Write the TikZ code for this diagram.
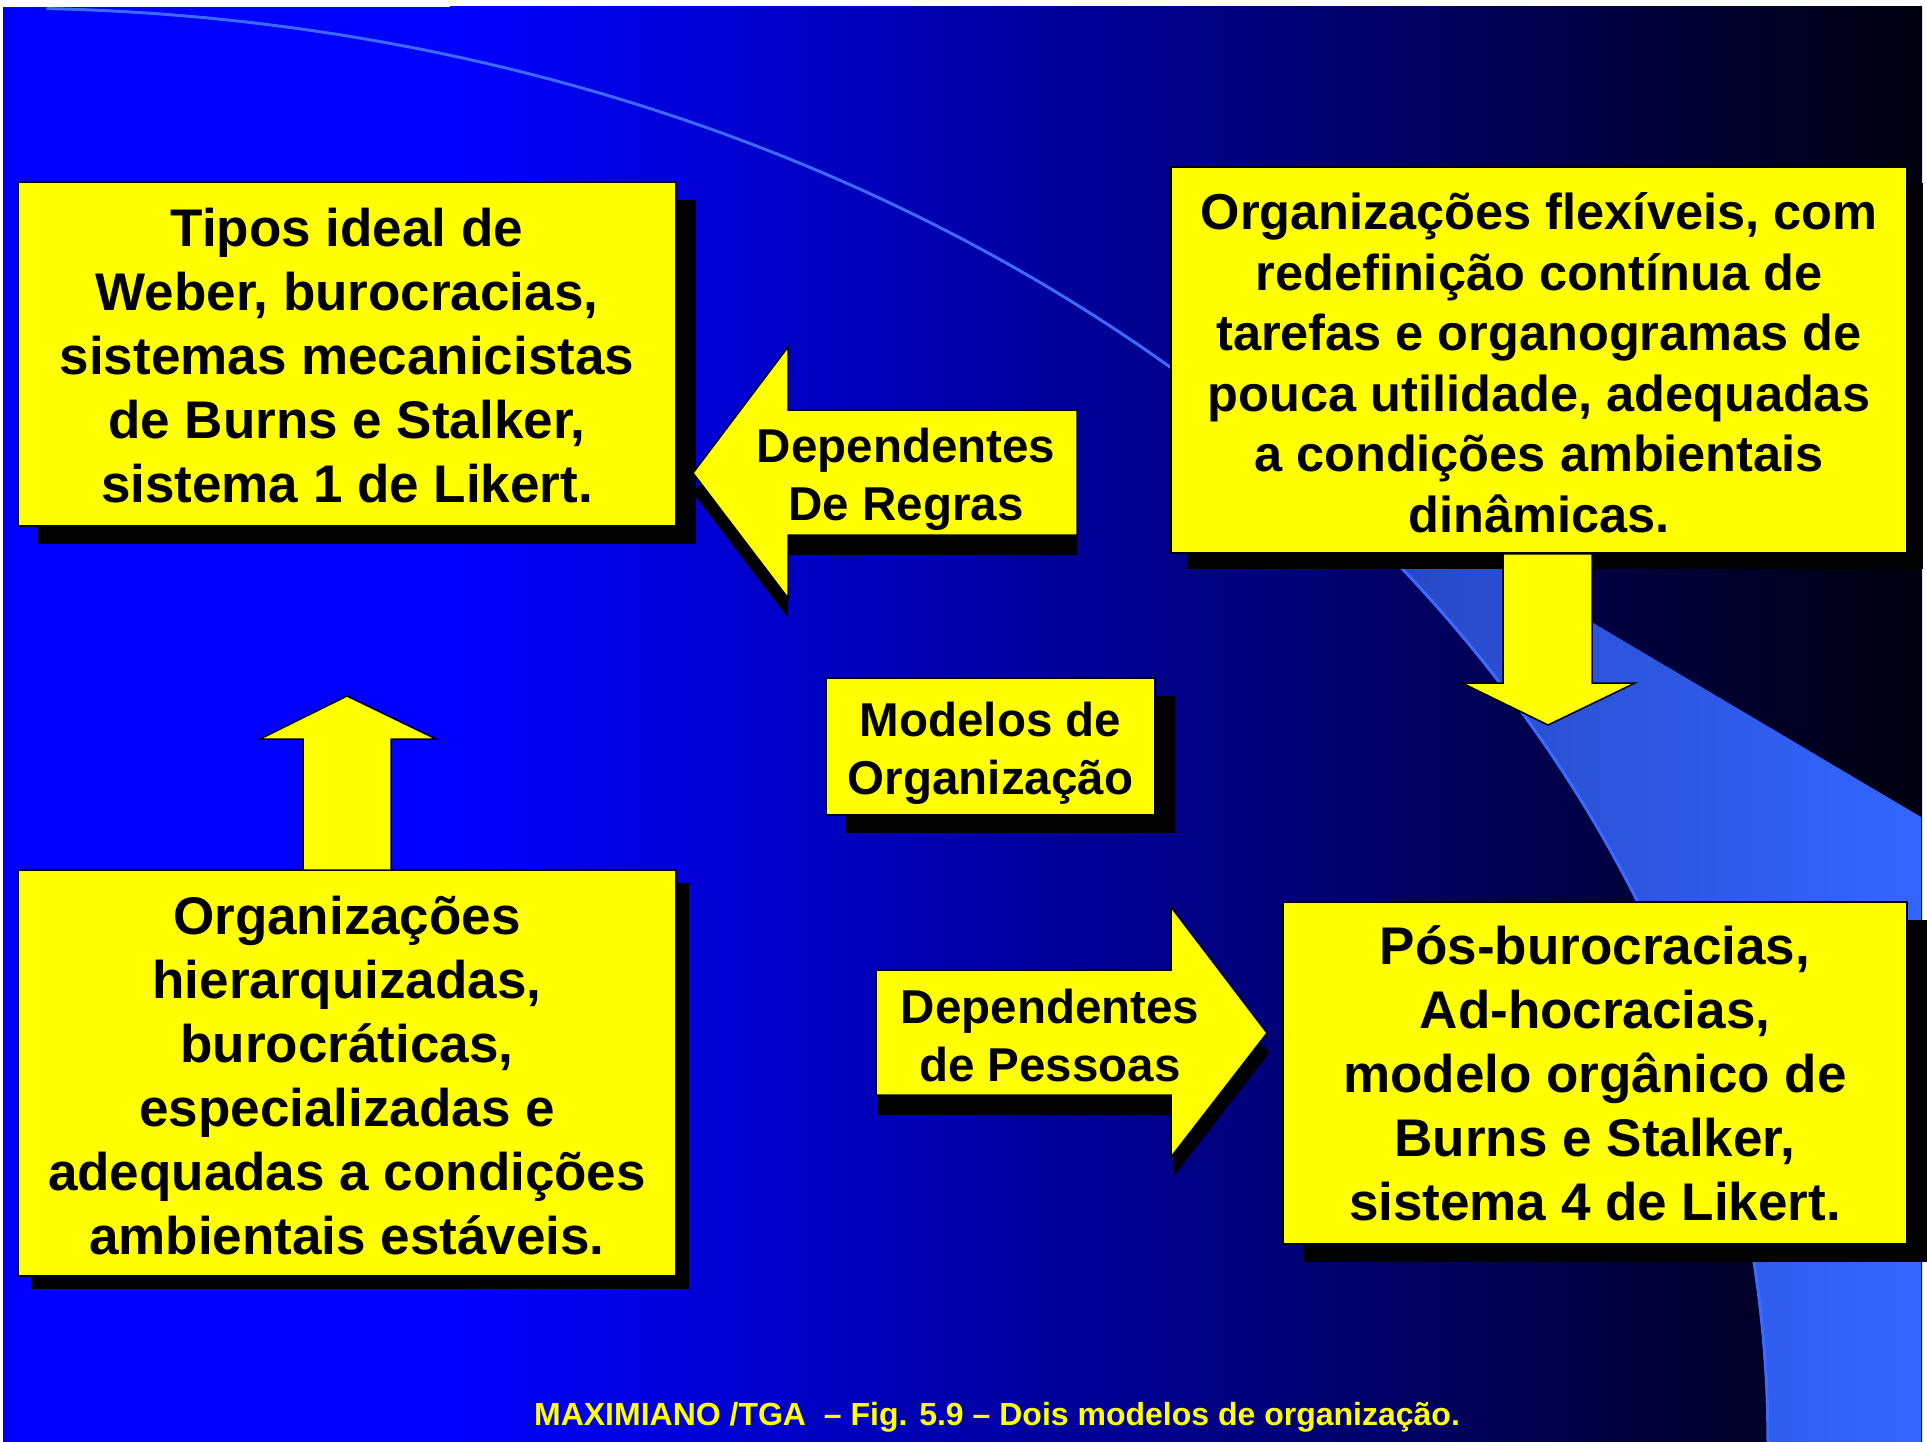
\documentclass[tikz,border=0pt]{standalone}
\usepackage{fontspec}
\setmainfont{Liberation Sans}
\usetikzlibrary{shadows}
\definecolor{bgA}{RGB}{0,0,255}
\definecolor{bgB}{RGB}{0,0,14}
\definecolor{swA}{RGB}{36,62,176}
\definecolor{swB}{RGB}{51,102,255}
\definecolor{arcline}{RGB}{60,105,255}
\definecolor{boxyellow}{RGB}{255,255,0}
\begin{document}
\begin{tikzpicture}[x=1pt,y=-1pt,
  box/.style={draw=black, line width=1.5pt, fill=boxyellow, inner sep=0pt},
  shad/.style 2 args={general shadow={fill=black, shadow xshift=#1pt, shadow yshift=-#2pt}},
  bigtext/.style={font=\fontsize{53}{64}\selectfont\bfseries},
  midtext/.style={font=\fontsize{50.5}{60.5}\selectfont\bfseries},
  smalltext/.style={font=\fontsize{47.5}{58}\selectfont\bfseries},
  blockarrow/.style={draw=black, line width=1.5pt, fill=boxyellow, line join=miter},
  arrowshadow/.style={fill=black},
  lbl/.style={inner sep=0pt, align=center, text=black}
]
% page and background
\useasboundingbox (0,0) rectangle (1927,1442);
\fill[white] (0,0) rectangle (1927,1442);
\fill[bgA] (3,7) rectangle (452,1442);
\shade[left color=bgA, right color=bgB] (450,7) rectangle (1922,1442);
% light blue swoosh
\shade[left color=swA, right color=swB] (1921,817) -- (1921,1442) -- plot[domain=0:46.9, samples=80] ({1768*cos(\x)},{1442-1434*sin(\x)}) -- cycle;
\draw[arcline, line width=3pt] plot[domain=0:88.5, samples=150] ({1768*cos(\x)},{1442-1434*sin(\x)});

% boxes
\node[box, shad={20}{18}, minimum width=658pt, minimum height=344pt] (b1) at (347,354) {};
\node[lbl, bigtext] (l1) at ([yshift=-1.5pt]b1.center)
  {Tipos ideal de\\Weber, burocracias,\\sistemas mecanicistas\\de Burns e Stalker,\\sistema 1 de Likert.};
\node[box, shad={16}{16}, minimum width=736pt, minimum height=386pt] (b2) at (1539,360) {};
\node[lbl, midtext] (l2) at ([yshift=-2.5pt]b2.center)
  {Organizações flexíveis, com\\redefinição contínua de\\tarefas e organogramas de\\pouca utilidade, adequadas\\a condições ambientais\\dinâmicas.};
\node[box, shad={20}{18}, minimum width=329pt, minimum height=137pt] (b3) at (990.5,746.5) {};
\node[lbl, smalltext] (l3) at ([yshift=-7pt]b3.center) {Modelos de\\Organização};
\node[box, shad={13}{13}, minimum width=658pt, minimum height=406pt] (b4) at (347,1073) {};
\node[lbl, bigtext] (l4) at ([yshift=-2.5pt]b4.center)
  {Organizações\\hierarquizadas,\\burocráticas,\\especializadas e\\adequadas a condições\\ambientais estáveis.};
\node[box, shad={20}{18}, minimum width=624pt, minimum height=342pt] (b5) at (1595,1073) {};
\node[lbl, bigtext] (l5) at ([yshift=-0.5pt]b5.center)
  {Pós-burocracias,\\Ad-hocracias,\\modelo orgânico de\\Burns e Stalker,\\sistema 4 de Likert.};

% left block arrow (Dependentes De Regras)
\fill[arrowshadow] (693,493) -- (788,367) -- (788,430) -- (1077,430) -- (1077,555) -- (788,555) -- (788,618) -- cycle;
\draw[blockarrow] (693,473) -- (788,347) -- (788,410) -- (1077,410) -- (1077,535) -- (788,535) -- (788,598) -- cycle;
\node[lbl, smalltext] (t1) at (906,479) {Dependentes\\De Regras};

% right block arrow (Dependentes de Pessoas)
\fill[arrowshadow] (878,990) -- (1173,990) -- (1173,927) -- (1269,1053) -- (1173,1177) -- (1173,1115) -- (878,1115) -- cycle;
\draw[blockarrow] (876,970) -- (1171,970) -- (1171,907) -- (1267,1033) -- (1171,1157) -- (1171,1095) -- (876,1095) -- cycle;
\node[lbl, smalltext] (t2) at (1050,1036) {Dependentes\\de Pessoas};

% up arrow
\draw[blockarrow] (b4.north -| 303,0) -- (303,739) -- (260,739) -- (347,696) -- (436,739) -- (391,739) -- (b4.north -| 391,0);
% down arrow
\draw[blockarrow] (b2.south -| 1503,0) -- (1503,683) -- (1462,683) -- (1548,725) -- (1635,683) -- (1592,683) -- (b2.south -| 1592,0) -- cycle;

% footer
\node[inner sep=0pt, text=boxyellow, font=\fontsize{32}{38}\selectfont\bfseries] (foot) at (997,1417)
  {MAXIMIANO /TGA~ – Fig. 5.9 – Dois modelos de organização.};
\end{tikzpicture}
\end{document}
